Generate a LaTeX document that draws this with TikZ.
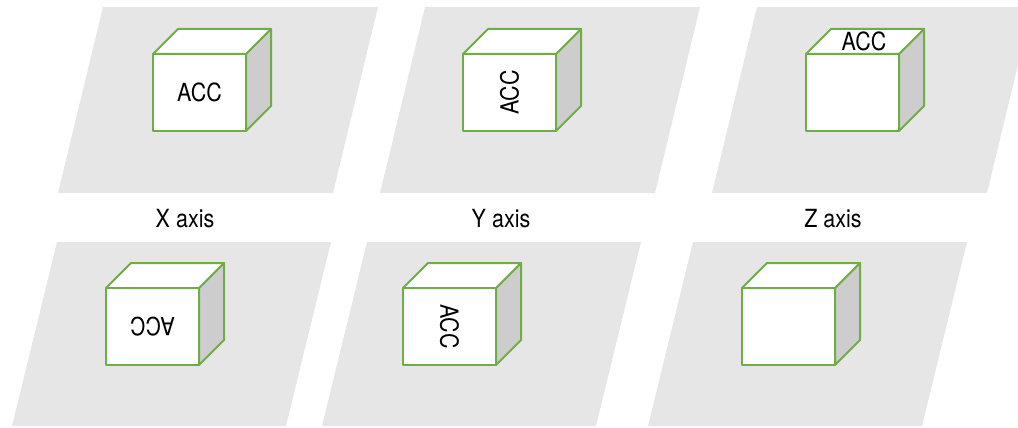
\documentclass[tikz,border=0pt]{standalone}
\usepackage{fontspec}
\newfontfamily\labelfont[FakeStretch=0.86]{TeX Gyre Heros}
\definecolor{panelgray}{HTML}{E6E6E6}
\definecolor{sidegray}{HTML}{CDCDCD}
\definecolor{cubegreen}{HTML}{70AD47}
\tikzset{
  panel/.style={fill=panelgray, draw=none},
  face/.style={fill=white, draw=cubegreen, line width=2pt, line join=round},
  sideface/.style={fill=sidegray, draw=cubegreen, line width=2pt, line join=round},
  lbl/.style={font=\labelfont\fontsize{25}{29}\selectfont, text=black, inner sep=0pt},
}
\newcommand\accbox[2]{%
  \begin{scope}[shift={(#1,#2)}]
    \path[sideface] (93,0) -- (118,-25) -- (118,52) -- (93,77) -- cycle;
    \path[face] (0,0) -- (25,-25) -- (118,-25) -- (93,0) -- cycle;
    \path[face] (0,0) rectangle (93,77);
  \end{scope}}
\begin{document}
\begin{tikzpicture}[x=1pt,y=-1pt]
\useasboundingbox (0,0) rectangle (1018,428);
% panels
\path[panel] (103,7) -- (378,7) -- (333,193) -- (58,193) -- cycle;
\path[panel] (425,7) -- (700,7) -- (655,193) -- (380,193) -- cycle;
\path[panel] (757,7) -- (1032,7) -- (987,193) -- (712,193) -- cycle;
\path[panel] (57,242) -- (331,242) -- (286,426) -- (12,426) -- cycle;
\path[panel] (367,242) -- (641,242) -- (596,426) -- (322,426) -- cycle;
\path[panel] (693,242) -- (967,242) -- (922,426) -- (648,426) -- cycle;
% cubes
\accbox{153}{54}
\accbox{463}{54}
\accbox{806}{54}
\accbox{106}{288}
\accbox{403}{288}
\accbox{742}{288}
% texts
\node[lbl] (t1) at (199.5,92.5) {ACC};
\node[lbl, rotate=90] (t2) at (509.5,92.5) {ACC};
\node[lbl] (t3) at (864,41.5) {ACC};
\node[lbl, rotate=180] (t4) at (152.5,326.5) {ACC};
\node[lbl, rotate=-90] (t5) at (449.5,326.5) {ACC};
\node[lbl] (xa) at (185,219) {X axis};
\node[lbl] (ya) at (501,219) {Y axis};
\node[lbl] (za) at (833,219) {Z axis};
\end{tikzpicture}
\end{document}
